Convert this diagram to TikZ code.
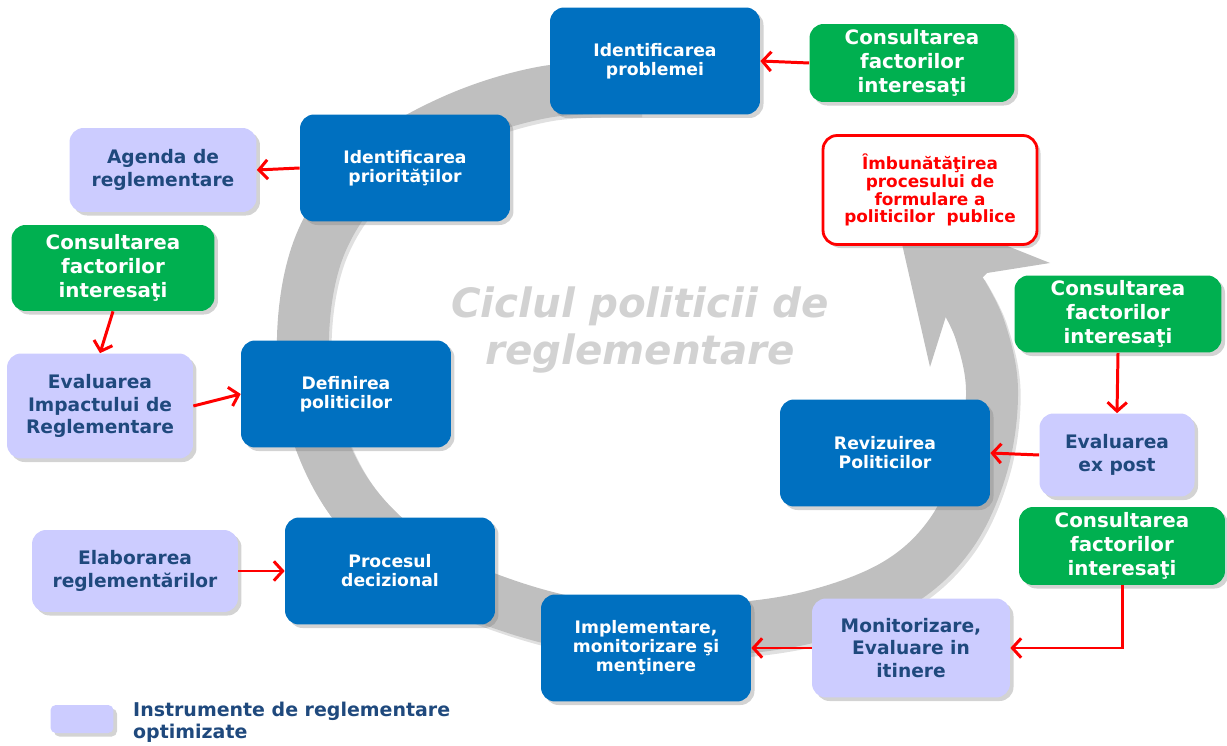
\documentclass[tikz,border=0pt]{standalone}
\usepackage{fontspec}
\setmainfont{DejaVu Sans}
\usetikzlibrary{arrows.meta,shadows}

\definecolor{boxblue}{RGB}{0,112,192}
\definecolor{boxgreen}{RGB}{0,176,80}
\definecolor{boxlilac}{RGB}{204,204,255}
\definecolor{lilactext}{RGB}{31,73,125}
\definecolor{ringgray}{RGB}{191,191,191}
\definecolor{titlegray}{RGB}{210,210,210}

\tikzset{
  box/.style={rounded corners=8pt, align=center, inner sep=2pt,
    drop shadow={shadow xshift=2pt, shadow yshift=-2pt, opacity=0.35}},
  stage/.style={box, fill=boxblue, text=white, minimum width=4.2cm, minimum height=2.14cm,
    font=\bfseries\fontsize{9.8}{10.8}\selectfont},
  consult/.style={box, fill=boxgreen, text=white, minimum width=4.1cm, minimum height=1.56cm,
    font=\bfseries\fontsize{11.3}{13.6}\selectfont},
  tool/.style={box, fill=boxlilac, text=lilactext,
    font=\bfseries\fontsize{10.6}{12.8}\selectfont},
  redarrow/.style={draw=red, line width=1.7pt, -{Straight Barb[length=5pt,width=11pt]}}
}

\begin{document}
\begin{tikzpicture}[x=0.02cm, y=-0.02cm]
\useasboundingbox (0,0) rectangle (1227,746);

%ring
\draw[black, opacity=0.12, line width=1.04cm, xshift=1.5pt, yshift=-2pt] plot[smooth, tension=0.6] coordinates {(640,88) (545,92) (450,122) (370,172) (320,245) (303,337) (315,425) (355,505) (425,568) (515,608) (615,630) (715,630) (810,617) (895,585) (950,535) (982,465) (992,390) (980,330) (960,290)};
\draw[ringgray, line width=1.04cm] plot[smooth, tension=0.6] coordinates {(640,88) (545,92) (450,122) (370,172) (320,245) (303,337) (315,425) (355,505) (425,568) (515,608) (615,630) (715,630) (810,617) (895,585) (950,535) (982,465) (992,390) (980,330) (960,290)};
\fill[ringgray] (947,313) -- (930,367) -- (892,200) -- (1050,263) -- (987,273) -- cycle;

%title
\node[text=titlegray, font=\bfseries\itshape\fontsize{23}{26.6}\selectfont, align=center] (titlu) at (640,330) {Ciclul politicii de\\reglementare};

%stages
\node[stage] (problemei) at (655,61) {Identificarea\\problemei};
\node[stage] (prioritati) at (405,168) {Identificarea\\priorităţilor};
\node[stage] (definirea) at (346,394) {Definirea\\politicilor};
\node[stage] (procesul) at (390,571) {Procesul\\decizional};
\node[stage] (implementare) at (646,648) {Implementare,\\monitorizare şi\\menţinere};
\node[stage] (revizuirea) at (885,453) {Revizuirea\\Politicilor};

%tools
\node[tool, minimum width=3.74cm, minimum height=1.68cm] (agenda) at (163,170) {Agenda de\\reglementare};
\node[tool, minimum width=3.72cm, minimum height=2.1cm] (impact) at (100,406) {Evaluarea\\Impactului de\\Reglementare};
\node[tool, minimum width=4.12cm, minimum height=1.64cm] (elaborarea) at (135,571) {Elaborarea\\reglementărilor};
\node[tool, minimum width=3.96cm, minimum height=1.98cm] (monitorizare) at (911,648) {Monitorizare,\\Evaluare in\\itinere};
\node[tool, minimum width=3.1cm, minimum height=1.66cm] (expost) at (1117,455) {Evaluarea\\ex post};

%consultations
\node[consult] (consultA) at (912,63) {Consultarea\\factorilor\\interesaţi};
\node[consult, minimum width=4.06cm, minimum height=1.72cm] (consultB) at (113,268) {Consultarea\\factorilor\\interesaţi};
\node[consult, minimum width=4.14cm, minimum height=1.54cm] (consultC) at (1118,314) {Consultarea\\factorilor\\interesaţi};
\node[consult, minimum width=4.12cm] (consultD) at (1122,546) {Consultarea\\factorilor\\interesaţi};

%goal
\node[box, draw=red, line width=1.6pt, fill=white, text=red, minimum width=4.28cm, minimum height=2.18cm,
  font=\bfseries\fontsize{9.6}{10.2}\selectfont] (imbunatatire) at (930,190) {Îmbunătăţirea\\procesului de\\formulare a\\politicilor\ \ publice};

%arrows
\draw[redarrow] (consultA.west) -- (problemei.east);
\draw[redarrow] (prioritati.west) -- (agenda.east);
\draw[redarrow] (consultB.south) -- (impact.north);
\draw[redarrow] (impact.east) -- (definirea.west);
\draw[redarrow] (elaborarea.east) -- (procesul.west);
\draw[redarrow] (monitorizare.west) -- (implementare.east);
\draw[redarrow] (consultD.south) |- (monitorizare.east);
\draw[redarrow] (consultC.south) -- (expost.north);
\draw[redarrow] (expost.west) -- (revizuirea.east);

%legend
\node[tool, rounded corners=3pt, minimum width=1.26cm, minimum height=0.56cm] (legendbox) at (82,719) {};
\node[anchor=west, align=left, text=lilactext, font=\bfseries\fontsize{10.8}{12.5}\selectfont] (legendtext) at (127,722) {Instrumente de reglementare\\optimizate};

\end{tikzpicture}
\end{document}
